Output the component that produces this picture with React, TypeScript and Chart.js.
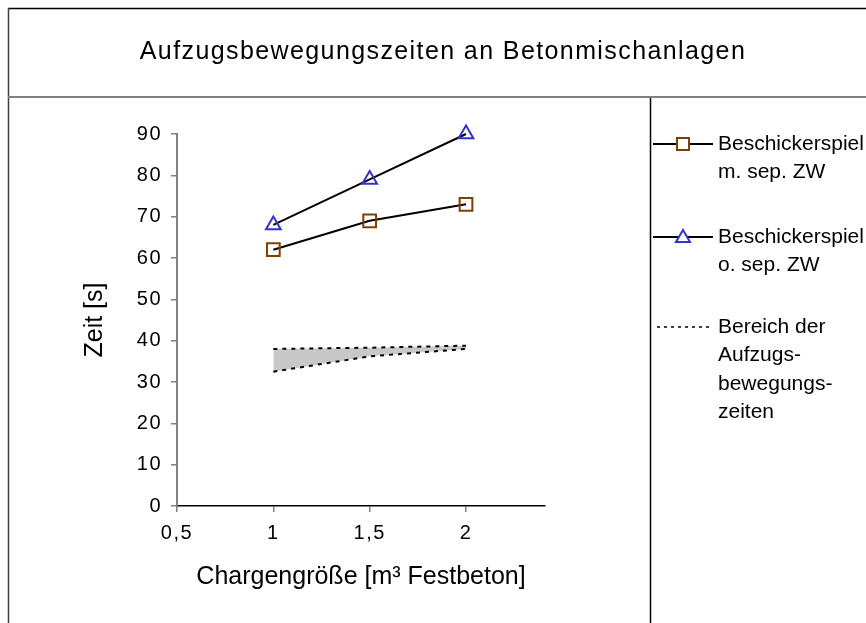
import React, { useEffect, useRef } from "react";
import { Chart, registerables } from "chart.js";

Chart.register(...registerables);

const chartTitle = "Aufzugsbewegungszeiten an Betonmischanlagen";
const xAxisTitle = "Chargengröße [m³ Festbeton]";
const yAxisTitle = "Zeit [s]";

const chargen = [1, 1.5, 2];
const mitSepZW = [62, 69, 73];
const ohneSepZW = [68, 79, 90];
const bereichUnten = [32.5, 36.2, 38];
const bereichOben = [38, 38.3, 38.8];

const xTicks = [0.5, 1, 1.5, 2];
const yTicks = [0, 10, 20, 30, 40, 50, 60, 70, 80, 90];

const legendMit = ["Beschickerspiel", "m. sep. ZW"];
const legendOhne = ["Beschickerspiel", "o. sep. ZW"];
const legendBereich = ["Bereich der", "Aufzugs-", "bewegungs-", "zeiten"];

const BROWN = "#7f3f00";
const BLUE = "#3333cc";
const FONT = "'Liberation Sans', Arial, sans-serif";

const framePlugin = {
  id: "frame",
  beforeDraw(chart: any) {
    const ctx = chart.ctx;
    ctx.save();
    ctx.fillStyle = "#ffffff";
    ctx.fillRect(0, 0, chart.width, chart.height);
    ctx.strokeStyle = "#000000";
    ctx.lineWidth = 1.5;
    ctx.beginPath();
    ctx.moveTo(8, 8.5);
    ctx.lineTo(chart.width, 8.5);
    ctx.stroke();
    ctx.strokeStyle = "#404040";
    ctx.lineWidth = 1.5;
    ctx.beginPath();
    ctx.moveTo(8.5, 8);
    ctx.lineTo(8.5, chart.height);
    ctx.stroke();
    ctx.strokeStyle = "#808080";
    ctx.lineWidth = 2;
    ctx.beginPath();
    ctx.moveTo(8, 97);
    ctx.lineTo(chart.width, 97);
    ctx.stroke();
    ctx.strokeStyle = "#000000";
    ctx.lineWidth = 1.5;
    ctx.beginPath();
    ctx.moveTo(650.5, 98);
    ctx.lineTo(650.5, chart.height);
    ctx.stroke();
    // title
    ctx.fillStyle = "#000000";
    ctx.font = `25px ${FONT}`;
    (ctx as any).letterSpacing = "1.4px";
    ctx.textAlign = "center";
    ctx.textBaseline = "alphabetic";
    ctx.fillText(chartTitle, 443, 59);
    ctx.restore();
  },
};

const legendPlugin = {
  id: "customLegend",
  afterDraw(chart: any) {
    const ctx = chart.ctx;
    ctx.save();
    const lineX0 = 653;
    const lineX1 = 713;
    const mx = 683;
    const tx = 718;
    const lh = 28.5;
    const drawText = (lines: string[], y0: number) => {
      ctx.fillStyle = "#000000";
      ctx.font = `21px ${FONT}`;
      (ctx as any).letterSpacing = "0px";
      ctx.textAlign = "left";
      ctx.textBaseline = "middle";
      lines.forEach((t, i) => ctx.fillText(t, tx, y0 + i * lh));
    };
    // item 1
    let y = 144;
    ctx.strokeStyle = "#000";
    ctx.lineWidth = 2;
    ctx.setLineDash([]);
    ctx.beginPath();
    ctx.moveTo(lineX0, y);
    ctx.lineTo(lineX1, y);
    ctx.stroke();
    ctx.fillStyle = "#fff";
    ctx.fillRect(mx - 6, y - 6, 12, 12);
    ctx.strokeStyle = BROWN;
    ctx.strokeRect(mx - 6, y - 6, 12, 12);
    drawText(legendMit, y);
    // item 2
    y = 237;
    ctx.strokeStyle = "#000";
    ctx.beginPath();
    ctx.moveTo(lineX0, y);
    ctx.lineTo(lineX1, y);
    ctx.stroke();
    ctx.fillStyle = "#fff";
    ctx.beginPath();
    ctx.moveTo(mx, y - 7);
    ctx.lineTo(mx + 7, y + 5);
    ctx.lineTo(mx - 7, y + 5);
    ctx.closePath();
    ctx.fill();
    ctx.strokeStyle = BLUE;
    ctx.stroke();
    drawText(legendOhne, y);
    // item 3
    y = 327;
    ctx.strokeStyle = "#000";
    ctx.lineWidth = 1.5;
    ctx.setLineDash([3, 4]);
    ctx.beginPath();
    ctx.moveTo(657, y);
    ctx.lineTo(711, y);
    ctx.stroke();
    ctx.setLineDash([]);
    drawText(legendBereich, y);
    ctx.restore();
  },
};

const tickSpacingPlugin = {
  id: "tickSpacing",
  afterUpdate(chart: any) {
    ["x", "y"].forEach((id) => {
      const s: any = chart.scales[id];
      if (s && !s.__patched) {
        const orig = s.drawLabels.bind(s);
        s.drawLabels = (area: any) => {
          const ctx: any = chart.ctx;
          ctx.save();
          ctx.letterSpacing = "1.5px";
          orig(area);
          ctx.restore();
        };
        s.__patched = true;
      }
    });
  },
};

export default function App() {
  const ref = useRef<HTMLCanvasElement | null>(null);

  useEffect(() => {
    if (!ref.current) return;
    const chart = new Chart(ref.current, {
      type: "line",
      data: {
        datasets: [
          {
            label: legendMit.join(" "),
            data: chargen.map((x, i) => ({ x, y: mitSepZW[i] })),
            borderColor: "#000000",
            borderWidth: 2,
            pointStyle: "rect",
            pointRadius: 9,
            pointBorderColor: BROWN,
            pointBackgroundColor: "rgba(0,0,0,0)",
            pointBorderWidth: 2,
            fill: false,
            clip: false,
          },
          {
            label: legendOhne.join(" "),
            data: chargen.map((x, i) => ({ x, y: ohneSepZW[i] })),
            borderColor: "#000000",
            borderWidth: 2,
            pointStyle: "triangle",
            pointRadius: 8.5,
            pointBorderColor: BLUE,
            pointBackgroundColor: "rgba(0,0,0,0)",
            pointBorderWidth: 2,
            fill: false,
            clip: false,
          },
          {
            label: "Bereich unten",
            data: chargen.map((x, i) => ({ x, y: bereichUnten[i] })),
            borderColor: "#000000",
            borderWidth: 2,
            borderDash: [4, 5],
            pointRadius: 0,
            fill: false,
          },
          {
            label: legendBereich.join(" "),
            data: chargen.map((x, i) => ({ x, y: bereichOben[i] })),
            borderColor: "#000000",
            borderWidth: 2,
            borderDash: [4, 5],
            pointRadius: 0,
            backgroundColor: "#c8c8c8",
            fill: "-1",
          },
        ],
      },
      options: {
        responsive: false,
        animation: false,
        devicePixelRatio: 1,
        layout: { padding: { left: 80, top: 134, right: 321, bottom: 0 } },
        plugins: {
          legend: { display: false },
          title: { display: false },
          tooltip: { enabled: false },
        },
        scales: {
          x: {
            type: "linear",
            position: "bottom",
            min: 0.5,
            max: 2.41,
            afterBuildTicks: (s: any) => {
              s.ticks = xTicks.map((v) => ({ value: v }));
            },
            afterFit: (s: any) => {
              s.height = 117;
            },
            ticks: {
              color: "#000000",
              font: { family: FONT, size: 20 },
              padding: 9,
              maxRotation: 0,
              callback: (v: any) => String(v).replace(".", ","),
            },
            grid: {
              display: true,
              drawOnChartArea: false,
              drawTicks: true,
              tickLength: 6,
              color: "#808080",
              lineWidth: 1.5,
            },
            border: { display: true, color: "#000000", width: 1.5 },
            title: {
              display: true,
              text: xAxisTitle,
              color: "#000000",
              font: { family: FONT, size: 25 },
              padding: { top: 0, bottom: 31 },
            },
          },
          y: {
            type: "linear",
            min: 0,
            max: 90,
            afterBuildTicks: (s: any) => {
              s.ticks = yTicks.map((v) => ({ value: v }));
            },
            afterFit: (s: any) => {
              s.width = 97;
            },
            ticks: {
              color: "#000000",
              font: { family: FONT, size: 20 },
              padding: 9,
            },
            grid: {
              display: true,
              drawOnChartArea: false,
              drawTicks: true,
              tickLength: 6,
              color: "#808080",
              lineWidth: 1.5,
            },
            border: { display: true, color: "#808080", width: 2 },
            title: {
              display: true,
              text: yAxisTitle,
              color: "#000000",
              font: { family: FONT, size: 25 },
              padding: { top: 0, bottom: 0 },
            },
          },
        },
      },
      plugins: [framePlugin, legendPlugin, tickSpacingPlugin],
    });
    return () => chart.destroy();
  }, []);

  return (
    <div style={{ position: "fixed", left: 0, top: 0, width: 866, height: 623, background: "#fff" }}>
      <canvas ref={ref} width={866} height={623} style={{ width: 866, height: 623, display: "block" }} />
    </div>
  );
}
